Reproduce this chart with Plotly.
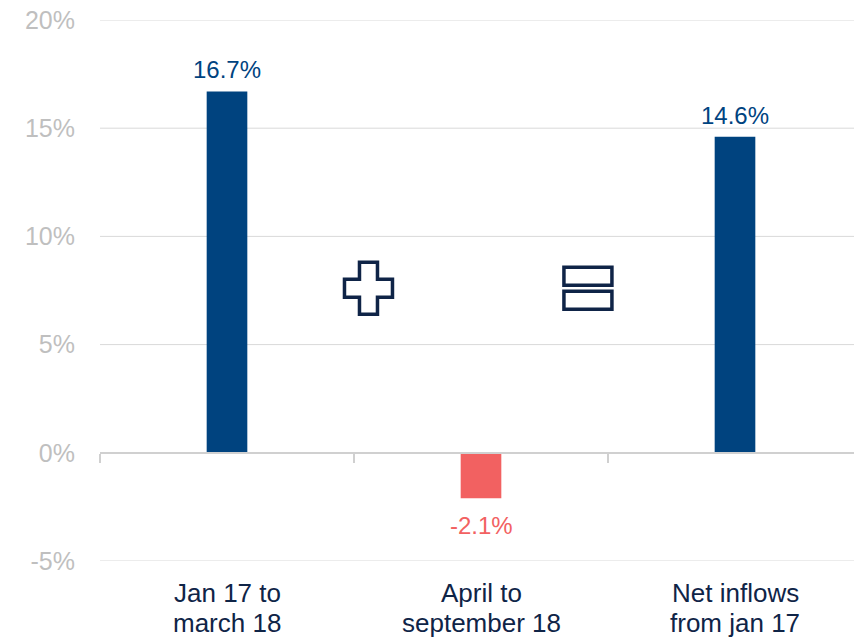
import plotly.graph_objects as go

# data
label_lines = [("Jan 17 to", "march 18"), ("April to", "september 18"), ("Net inflows", "from jan 17")]
values = [16.7, -2.1, 14.6]
bar_colors = ["#00437f", "#f26161", "#00437f"]
y_ticks = [-5, 0, 5, 10, 15, 20]
y_tick_text = ["-5%", "0%", "5%", "10%", "15%", "20%"]

# plus / equals signs between the bars (category position, value)
op_x = [0.557, 1.421]
op_y = [7.6, 7.6]

NAVY_DARK = "#0f2447"
GRID = "#d9d9d9"
FONT = "Liberation Sans, Arial, sans-serif"

fig = go.Figure()

fig.add_trace(go.Bar(
    x=[0, 1, 2], y=values,
    marker=dict(color=bar_colors, line=dict(width=0)),
    width=0.16,
    hoverinfo="skip",
))

# horizontal gridlines (plotly drops the ones sitting on the plot edges)
for t in y_ticks:
    if t == 0:
        continue
    fig.add_shape(type="line", xref="paper", yref="y", x0=0, x1=1, y0=t, y1=t,
                  line=dict(color=GRID, width=1), layer="below")

# value labels
for i, v in enumerate(values):
    fig.add_annotation(
        x=i, y=v, xref="x", yref="y",
        text=f"{v:.1f}%",
        showarrow=False,
        yanchor="bottom" if v >= 0 else "top",
        yshift=6 if v >= 0 else -12,
        font=dict(family=FONT, size=24, color=bar_colors[i]),
    )

# category labels under the plot, two lines each
for i, (l1, l2) in enumerate(label_lines):
    for line, shift in ((l1, -32), (l2, -62)):
        fig.add_annotation(
            x=i, y=0, xref="x", yref="paper",
            text=line, showarrow=False,
            yanchor="middle", yshift=shift,
            font=dict(family=FONT, size=26, color=NAVY_DARK),
        )

# plus sign & equals sign drawn as outlined pixel paths
plus_path = ("M -9,26 L 9,26 L 9,9 L 24,9 L 24,-9 L 9,-9 L 9,-26 "
             "L -9,-26 L -9,-9 L -24,-9 L -24,9 L -9,9 Z")
equals_path = ("M -24,3 L 24,3 L 24,21 L -24,21 Z "
               "M -24,-3 L 24,-3 L 24,-21 L -24,-21 Z")
for px_, py_, path in zip(op_x, op_y, [plus_path, equals_path]):
    fig.add_shape(
        type="path", path=path,
        xref="x", yref="y",
        xsizemode="pixel", ysizemode="pixel",
        xanchor=px_, yanchor=py_,
        line=dict(color=NAVY_DARK, width=3.5),
        fillcolor="rgba(0,0,0,0)",
    )

# the page body has an 8px default margin, so the figure is sized to fit the window
fig.update_layout(
    width=854, height=629,
    margin=dict(l=92, r=0, t=12, b=76),
    plot_bgcolor="white", paper_bgcolor="white",
    showlegend=False,
    font=dict(family=FONT),
    xaxis=dict(
        range=[-0.5, 2.5],
        anchor="free", position=0.2,
        showline=True, linecolor="#d0d0d0", linewidth=2,
        showgrid=False, zeroline=False,
        tickmode="array", tickvals=[-0.5, 0.5, 1.5, 2.5],
        ticks="outside", ticklen=9, tickwidth=2, tickcolor="#d0d0d0",
        showticklabels=False, automargin=False,
    ),
    yaxis=dict(
        range=[-5, 20],
        tickmode="array", tickvals=y_ticks, ticktext=y_tick_text,
        showgrid=False, zeroline=False, showline=False, ticks="",
        ticklabelstandoff=24, automargin=False,
        ticklabeloverflow="allow",
        tickfont=dict(family=FONT, size=25, color="#bfbfbf"),
    ),
)

fig.write_html("out.html")
